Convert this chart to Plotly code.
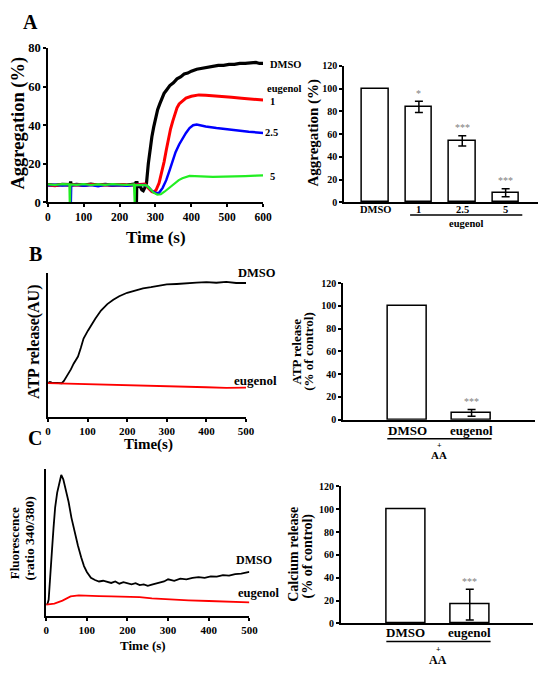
import plotly.graph_objects as go

# ---------------- DATA ----------------
# Panel A (left): aggregation traces (time s, aggregation %)
a_dmso_t = [0, 20, 40, 58, 62, 63.5, 65, 80, 100, 120, 140, 160, 180, 200, 220, 240, 245, 246, 247, 248, 250, 258, 262, 266, 270, 275,
            280, 285, 290, 295, 300, 306, 312, 318, 324, 330, 340, 350, 360, 370, 380, 390, 400, 415, 430, 445, 460, 475, 490,
            505, 520, 535, 550, 565, 580, 590, 600]
a_dmso_v = [9.2, 8.8, 9.3, 9.0, 9.2, 10.8, 9.0, 9.3, 8.9, 9.4, 9.0, 9.3, 8.9, 9.2, 9.0, 9.4, 9.2, 10.8, 0, 11.0, 8.5, 8.0, 6.5, 6.0, 7.5, 10,
            20, 28, 34, 39, 43.5, 48, 51, 54, 56.5, 58, 60.5, 62, 64, 65, 66.5, 67, 68, 69, 69.5, 70.3, 70.5, 71, 71,
            71.5, 71.5, 72, 72, 72.3, 72.5, 72, 72]
a_e1_t = [0, 20, 40, 60, 80, 100, 120, 140, 160, 180, 200, 220, 240, 260, 270, 280, 290, 296, 302, 310, 318, 324, 330, 336, 342,
          348, 354, 360, 366, 375, 385, 400, 421, 440, 466, 490, 512, 540, 570, 600]
a_e1_v = [9.0, 8.6, 9.2, 8.8, 9.1, 8.7, 9.2, 8.8, 9.1, 8.7, 9.2, 8.9, 9.0, 9.5, 9.5, 7.5, 5.5, 5.2, 6.5, 10, 16, 21, 27, 33, 38,
          42, 46, 49, 51, 52.5, 54, 55, 55.7, 55.5, 55, 54.6, 54.5, 54, 53.5, 53]
a_e25_t = [0, 20, 40, 60, 63, 64, 65, 80, 100, 120, 140, 160, 180, 200, 220, 240, 260, 270, 280, 290, 300, 310, 320, 330, 340,
           348, 356, 366, 376, 385, 395, 405, 415, 425, 440, 470, 500, 530, 560, 600]
a_e25_v = [8.9, 9.1, 8.7, 9.0, 9.0, 0, 8.8, 9.1, 8.6, 9.0, 8.4, 9.1, 8.7, 9.0, 8.6, 9.0, 9.0, 9.0, 8.0, 6.0, 4.8, 5.0, 7.5, 11.5, 17,
           21.7, 26, 30, 33.5, 36, 38.5, 40, 40.3, 39.8, 39.3, 38.5, 37.8, 37.2, 36.6, 36]
a_e5_t = [0, 20, 40, 60, 61, 62, 62.5, 80, 100, 120, 140, 160, 180, 200, 220, 240, 241, 242, 243, 260, 275, 285, 295, 305, 315,
          325, 335, 345, 355, 365, 375, 385, 395, 410, 430, 460, 490, 520, 550, 580, 600]
a_e5_v = [9.3, 9.0, 9.4, 9.3, 0, 0, 9.3, 9.1, 9.4, 9.0, 9.3, 9.1, 9.4, 9.2, 9.0, 9.3, 0, 0, 9.0, 9.0, 8.8, 7.0, 5.0, 4.0, 4.2,
          5.5, 7.0, 8.5, 10, 11.5, 12.5, 13.3, 13.7, 13.6, 13.4, 13.2, 13.3, 13.3, 13.6, 13.8, 14]

# Panel A (right): aggregation bars
a_bar_cats = ["DMSO", "1", "2.5", "5"]
a_bar_vals = [100, 84, 54, 8.5]
a_bar_err = [0, 5, 4.5, 3.5]
a_bar_sig = ["", "*", "***", "***"]

# Panel B (left): ATP release traces (AU)
b_dmso_t = [0, 5, 10, 20, 30, 35, 40, 45, 52, 58, 65, 76, 83, 90, 101, 110, 120, 134, 150, 165, 180, 200, 220, 240, 260, 280,
            300, 325, 350, 375, 400, 425, 450, 475, 500]
b_dmso_v = [23.5, 24.3, 23.8, 23.5, 23.2, 23.4, 24.8, 27, 29.5, 33, 37, 42, 48, 54.5, 60, 64.5, 68.5, 74, 78.5, 81.5, 84, 86.4,
            87.8, 89.5, 90.3, 91.5, 92.2, 92.5, 93.2, 93.4, 93.8, 93.4, 94, 93.2, 93.2]
b_eug_t = [0, 50, 100, 150, 200, 250, 300, 350, 400, 450, 500]
b_eug_v = [23.5, 23.2, 22.9, 22.5, 22.0, 21.7, 21.2, 21.0, 20.6, 20.2, 20.3]

# Panel B (right): ATP release bars
b_bar_cats = ["DMSO", "eugenol"]
b_bar_vals = [100, 6]
b_bar_err = [0, 3]
b_bar_sig = ["", "***"]

# Panel C (left): calcium fluorescence traces
c_dmso_t = [0, 3, 6, 10, 14, 18, 22, 27, 32, 37, 42, 48, 55, 62, 70, 78, 86, 93, 100, 110, 120, 130, 140, 150, 160, 170, 180, 190,
            200, 210, 220, 230, 240, 250, 260, 270, 280, 290, 300, 315, 330, 345, 360, 375, 390, 405, 420, 435, 450, 465, 480, 490, 500]
c_dmso_v = [7.8, 8.2, 11, 25, 44, 60, 74, 84, 91, 96, 93, 86, 77.8, 67, 57, 48, 40, 34, 30, 26, 24.5, 23.5, 24, 23.3, 22.5, 23.5,
            22, 23, 22.5, 21.5, 22.3, 21, 21.5, 20.5, 21.3, 22, 22.5, 23.5, 25, 24, 25.5, 25, 26, 26.5, 26, 27, 26.8, 27.8, 27.5, 28.5,
            28.8, 29.5, 30]
c_eug_t = [0, 20, 40, 60, 80, 100, 130, 160, 200, 230, 260, 300, 350, 400, 450, 500]
c_eug_v = [7.8, 8.5, 10.5, 13.3, 14, 14, 13.5, 13.3, 13.2, 12.8, 12, 11.3, 10.7, 10.2, 9.6, 9.3]

# Panel C (right): calcium release bars
c_bar_cats = ["DMSO", "eugenol"]
c_bar_vals = [100, 16.5]
c_bar_err = [0, 13.5]
c_bar_sig = ["", "***"]

# ---------------- LAYOUT HELPERS ----------------
W, H = 550, 677
OFF = 8  # page body margin offset of the rendered figure
FONT = "Liberation Serif, Times New Roman, serif"


def px(x):
    return (x - OFF) / W


def py(y):
    return 1 - (y - OFF) / H


def f(size, color="black"):
    return dict(family=FONT, size=size, color=color, weight="bold")


fig = go.Figure()

# Panel A left traces
for t, v, col, w in [(a_dmso_t, a_dmso_v, "#000000", 3.2),
                     (a_e1_t, a_e1_v, "#ff0000", 3.0),
                     (a_e25_t, a_e25_v, "#0000ff", 2.5),
                     (a_e5_t, a_e5_v, "#22ee22", 2.2)]:
    fig.add_trace(go.Scatter(x=t, y=v, mode="lines", line=dict(color=col, width=w),
                             xaxis="x", yaxis="y", showlegend=False))


def add_bars(cats, vals, errs, xa, ya):
    xs = list(range(len(cats)))
    fig.add_trace(go.Bar(x=xs, y=vals, width=0.61,
                         marker=dict(color="white", line=dict(color="black", width=1.5)),
                         xaxis=xa, yaxis=ya, showlegend=False))
    idx = [i for i, e in enumerate(errs) if e > 0]
    fig.add_trace(go.Scatter(x=[xs[i] for i in idx], y=[vals[i] for i in idx], mode="markers",
                             marker=dict(size=1, opacity=0),
                             error_y=dict(type="data", array=[errs[i] for i in idx], color="black",
                                          thickness=1.5, width=4),
                             xaxis=xa, yaxis=ya, showlegend=False))


add_bars(a_bar_cats, a_bar_vals, a_bar_err, "x2", "y2")

# Panel B left traces
fig.add_trace(go.Scatter(x=b_dmso_t, y=b_dmso_v, mode="lines", line=dict(color="black", width=1.8),
                         xaxis="x3", yaxis="y3", showlegend=False))
fig.add_trace(go.Scatter(x=b_eug_t, y=b_eug_v, mode="lines", line=dict(color="#ff0000", width=1.8),
                         xaxis="x3", yaxis="y3", showlegend=False))

add_bars(b_bar_cats, b_bar_vals, b_bar_err, "x4", "y4")

# Panel C left traces
fig.add_trace(go.Scatter(x=c_dmso_t, y=c_dmso_v, mode="lines", line=dict(color="black", width=1.8),
                         xaxis="x5", yaxis="y5", showlegend=False))
fig.add_trace(go.Scatter(x=c_eug_t, y=c_eug_v, mode="lines", line=dict(color="#ff0000", width=1.8),
                         xaxis="x5", yaxis="y5", showlegend=False))

add_bars(c_bar_cats, c_bar_vals, c_bar_err, "x6", "y6")


def line_axis(**kw):
    d = dict(showline=True, linecolor="black", linewidth=1.5, showgrid=False, zeroline=False,
             ticks="outside", ticklen=3, tickwidth=1.5, tickcolor="black")
    d.update(kw)
    return d


layout = dict(
    width=W, height=H, margin=dict(l=0, r=0, t=0, b=0),
    paper_bgcolor="white", plot_bgcolor="white", bargap=0,
    font=dict(family=FONT),
    xaxis=line_axis(domain=[px(45.7), px(265.7)], range=[0, 600], anchor="y", dtick=100,
                    tickfont=f(11.5)),
    yaxis=line_axis(domain=[py(199.3), py(41.7)], range=[0, 80], anchor="x", dtick=20,
                    tickfont=f(12.5)),
    xaxis2=line_axis(domain=[px(348.3), px(546.7)], range=[-0.73, 3.745], anchor="y2",
                     tickvals=list(range(len(a_bar_cats))), showticklabels=False, ticks=""),
    yaxis2=line_axis(domain=[py(199.3), py(60)], range=[0, 120], anchor="x2", dtick=20,
                     tickfont=f(10)),
    xaxis3=line_axis(domain=[px(45.7), px(248.3)], range=[0, 500], anchor="y3", dtick=100,
                     tickfont=f(11)),
    yaxis3=line_axis(domain=[py(418.3), py(271.7)], range=[0, 100], anchor="x3", ticks="",
                     showticklabels=False),
    xaxis4=line_axis(domain=[px(347.3), px(543.3)], range=[-1.0, 1.98], anchor="y4",
                     tickvals=list(range(len(b_bar_cats))), showticklabels=False, ticks=""),
    yaxis4=line_axis(domain=[py(421.3), py(281.7)], range=[0, 120], anchor="x4", dtick=20,
                     tickfont=f(10)),
    xaxis5=line_axis(domain=[px(44), px(251.7)], range=[0, 500], anchor="y5", dtick=100,
                     tickfont=f(11)),
    yaxis5=line_axis(domain=[py(621.7), py(471.7)], range=[0, 100], anchor="x5", ticks="",
                     showticklabels=False),
    xaxis6=line_axis(domain=[px(345), px(541.7)], range=[-1.02, 1.99], anchor="y6",
                     tickvals=list(range(len(c_bar_cats))), showticklabels=False, ticks=""),
    yaxis6=line_axis(domain=[py(629.3), py(489.3)], range=[0, 120], anchor="x6", dtick=20,
                     tickfont=f(10)),
)

ann = []


def A(text, x, y, size, xanchor="center", angle=0, color="black", yanchor="middle"):
    ann.append(dict(text=text, x=px(x), y=py(y), xref="paper", yref="paper", showarrow=False,
                    xanchor=xanchor, yanchor=yanchor, textangle=angle, font=f(size, color)))


def cat_labels(cats, xa, y, size):
    for i, c in enumerate(cats):
        ann.append(dict(text=c, x=i, y=py(y), xref=xa, yref="paper", showarrow=False,
                        xanchor="center", yanchor="middle", font=f(size)))


def sig_labels(sigs, vals, errs, xa, ya):
    for i, s in enumerate(sigs):
        if s:
            ann.append(dict(text=s, x=i, y=vals[i] + errs[i] + 0.5, xref=xa, yref=ya,
                            showarrow=False, yanchor="bottom",
                            font=dict(family=FONT, size=10, color="#808080")))


# Panel letters
A("A", 28, 15, 20)
A("B", 33, 252, 20)
A("C", 33, 440, 20)

# Panel A left
A("Aggregation (%)", 15.5, 118.5, 18.5, angle=-90)
A("Time (s)", 156.7, 235, 17)
A("DMSO", 270.5, 58.3, 10.5, xanchor="left")
A("eugenol", 268, 83.3, 10.5, xanchor="left")
A("1", 271, 96.7, 10.5, xanchor="left")
A("2.5", 266, 128.3, 10.5, xanchor="left")
A("5", 271, 173.3, 10.5, xanchor="left")

# Panel A right
A("Aggregation (%)", 317.5, 128.3, 15, angle=-90)
cat_labels(a_bar_cats, "x2", 206.7, 10.5)
A("eugenol", 473.3, 221.3, 10.5)
sig_labels(a_bar_sig, a_bar_vals, a_bar_err, "x2", "y2")

# Panel B left
A("ATP release(AU)", 31.7, 341.7, 16, angle=-90)
A("Time(s)", 149, 447, 15)
A("DMSO", 259, 271.7, 12.5)
A("eugenol", 257.5, 381.7, 13)

# Panel B right
A("ATP release", 300, 352, 13, angle=-90)
A("(% of control)", 312.5, 352, 13, angle=-90)
cat_labels(b_bar_cats, "x4", 432.7, 13)
A("+", 446, 447.5, 8)
A("AA", 446, 457, 11)
sig_labels(b_bar_sig, b_bar_vals, b_bar_err, "x4", "y4")

# Panel C left
A("Fluorescence", 11.5, 547, 13, angle=-90)
A("(ratio 340/380)", 27, 543, 13.5, angle=-90)
A("Time (s)", 143, 651.7, 13)
A("DMSO", 256.5, 565, 12)
A("eugenol", 261.5, 598.3, 12.5)

# Panel C right
A("Calcium release", 296.5, 559, 14, angle=-90)
A("(% of control)", 311.5, 560, 14, angle=-90)
cat_labels(c_bar_cats, "x6", 638.5, 13)
A("+", 445, 656, 8)
A("AA", 445, 667, 12)
sig_labels(c_bar_sig, c_bar_vals, c_bar_err, "x6", "y6")

layout["annotations"] = ann

# group lines under category labels
shapes = []
for x0, x1, y in [(416, 530.7, 212.3), (392.7, 499.3, 440.7), (391.7, 498.3, 647.7)]:
    shapes.append(dict(type="line", xref="paper", yref="paper", x0=px(x0), x1=px(x1), y0=py(y), y1=py(y),
                       line=dict(color="black", width=1.5)))
layout["shapes"] = shapes

fig.update_layout(**layout)
fig.write_html("out.html")
